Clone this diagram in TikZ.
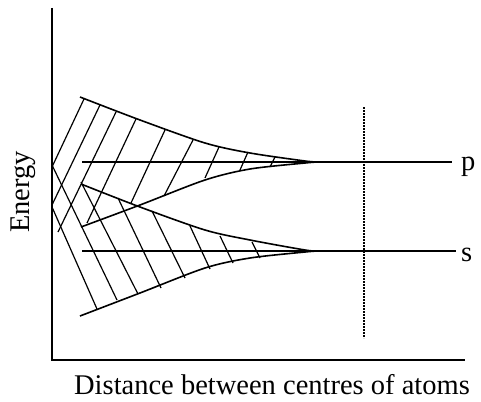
\documentclass[tikz,border=0pt]{standalone}
\usepackage{fontspec}
\setmainfont{Liberation Serif}
\begin{document}
\begin{tikzpicture}[x=1pt,y=-1pt,
  axis/.style={line width=1.6pt},
  bandedge/.style={line width=1.6pt},
  hatch/.style={line width=1.2pt},
  level/.style={line width=1.5pt},
  lbl/.style={font=\fontsize{28.5}{30}\selectfont, inner sep=0pt}]
\useasboundingbox (0,0) rectangle (481,401);
% axes
\draw[axis] (52,8) -- (52,360) -- (465,360);
% dashed separation
\draw[line width=1.1pt, dash pattern=on 2pt off 1pt] (364,107) -- (364,338);
% levels
\draw[level] (82,162) -- (452,162);
\draw[level] (82,251) -- (456,251);
% upper band edges
\draw[bandedge] plot[smooth, tension=0.5] coordinates {(80,97) (140,120) (205,143) (250,153) (305,161) (318,162)};
\draw[bandedge] plot[smooth, tension=0.5] coordinates {(81,227) (140,205) (205,180) (250,169) (305,163) (318,162)};
% lower band edges
\draw[bandedge] plot[smooth, tension=0.5] coordinates {(81,184) (140,207) (205,230) (250,240) (305,250) (318,251)};
\draw[bandedge] plot[smooth, tension=0.5] coordinates {(80,316) (140,293) (205,268) (250,258) (305,252) (318,251)};
% hatching upper band
\foreach \a/\b/\c/\d in {84/99/52/167, 100/105/52/205, 116/112/58/232, 136/119/87/223,
  165/130/131/203, 193/140/164/196, 219/147/205/178, 248/152/240/170, 275/157/270/167}
  \draw[hatch] (\a,\b) -- (\c,\d);
% hatching lower band
\foreach \a/\b/\c/\d in {52/165/117/300, 52/207/97/309, 81/182/138/294, 118/198/161/288,
  152/211/185/278, 190/226/210/269, 220/236/233/263, 252/242/260/258}
  \draw[hatch] (\a,\b) -- (\c,\d);
% labels
\node[lbl, anchor=base west] (p) at (461,170) {p};
\node[lbl, anchor=base west] (s) at (461,261) {s};
\node[lbl, rotate=90] (en) at (23,192) {Energy};
\node[lbl, anchor=base] (dist) at (272,394) {Distance between centres of atoms};
\end{tikzpicture}
\end{document}
